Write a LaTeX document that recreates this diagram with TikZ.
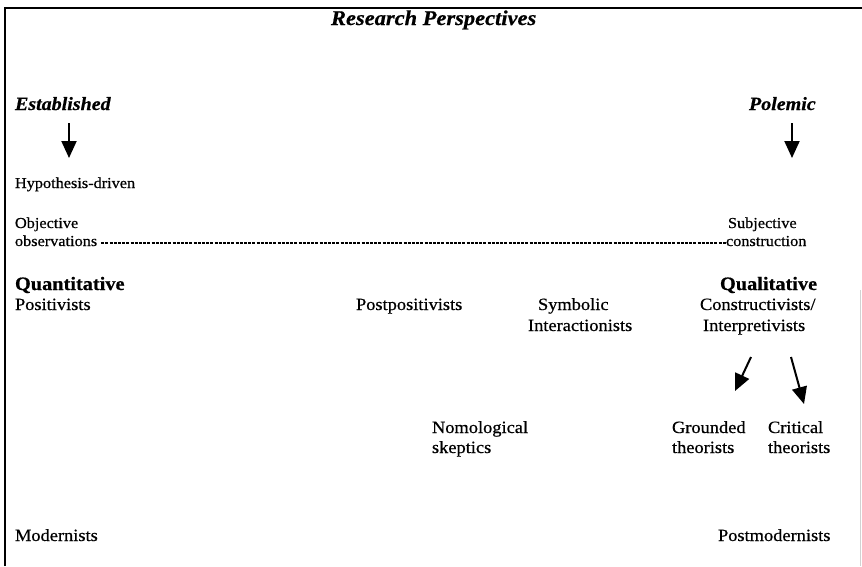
\documentclass[tikz,border=0pt]{standalone}
\usepackage{fontspec}
\setmainfont[FakeStretch=1.07,FakeBold=0.6]{Liberation Serif}
\usetikzlibrary{arrows.meta}

\tikzset{
  lbl/.style={anchor=base west, inner sep=0pt, outer sep=0pt},
  body/.style={lbl, font=\fontsize{17.2}{20}\selectfont},
  small/.style={lbl, font=\fontsize{15.2}{18}\selectfont},
  heading/.style={lbl, font=\fontsize{19}{20}\selectfont\bfseries},
  pole/.style={lbl, font=\fontsize{18.7}{20}\selectfont\bfseries\itshape},
  downarrow/.style={line width=2pt, -{Triangle[length=17pt,width=15pt]}},
  slantarrow/.style={line width=2pt, -{Triangle[length=17pt,width=15pt]}},
  frame/.style={line width=1.5pt},
  scale line/.style={line width=1.4pt, dash pattern=on 3pt off 1.2pt}
}

\begin{document}
\begin{tikzpicture}[x=1pt,y=-1pt]
\useasboundingbox (0,0) rectangle (862,566);

% outer frame (left and top edges, faint right edge)
\draw[frame] (5,566) -- (5,8) -- (862,8);
\draw[gray!35, line width=1pt] (860.5,290) -- (860.5,566);

% title
\node[lbl, font=\fontsize{21}{22}\selectfont\bfseries\itshape] (title) at (331,25) {Research Perspectives};

% the two poles
\node[pole] (est) at (15,110) {Established};
\node[pole] (pol) at (749,110) {Polemic};
\coordinate (estA) at (69,123);
\coordinate (estB) at (69,158);
\coordinate (polA) at (792,123);
\coordinate (polB) at (792,158);
\draw[downarrow] (estA) -- (estB);
\draw[downarrow] (polA) -- (polB);

\node[small] (hyp) at (15,188) {Hypothesis-driven};

% objective / subjective scale
\node[small] (obj1) at (15,228) {Objective};
\node[small] (obj2) at (15,246) {observations};
\node[small] (sub1) at (728,228) {Subjective};
\node[small] (sub2) at (726,246) {construction};
\draw[scale line] (obj2.base east) ++(4,-3) coordinate (dashL) -- (sub2.base west |- dashL) coordinate (dashR);

% quantitative / qualitative
\node[heading] (quan) at (15,290) {Quantitative};
\node[heading] (qual) at (720,290) {Qualitative};

\node[body] (posit) at (15,310) {Positivists};
\node[body] (postp) at (356,310) {Postpositivists};
\node[body] (sym1) at (538,310) {Symbolic};
\node[body] (sym2) at (528,331) {Interactionists};
\node[body] (con1) at (700,310) {Constructivists/};
\node[body] (con2) at (703,331) {Interpretivists};

% branches from the constructivists
\coordinate (g0) at (751,357);
\coordinate (g1) at (735,391);
\coordinate (c0) at (791,357);
\coordinate (c1) at (804,404);
\draw[slantarrow] (g0) -- (g1);
\draw[slantarrow] (c0) -- (c1);

\node[body] (nom1) at (432,433) {Nomological};
\node[body] (nom2) at (432,453) {skeptics};
\node[body] (gro1) at (672,433) {Grounded};
\node[body] (gro2) at (672,453) {theorists};
\node[body] (cri1) at (768,433) {Critical};
\node[body] (cri2) at (768,453) {theorists};

\node[body] (mod) at (15,541) {Modernists};
\node[body] (pmod) at (718,541) {Postmodernists};
\end{tikzpicture}
\end{document}
